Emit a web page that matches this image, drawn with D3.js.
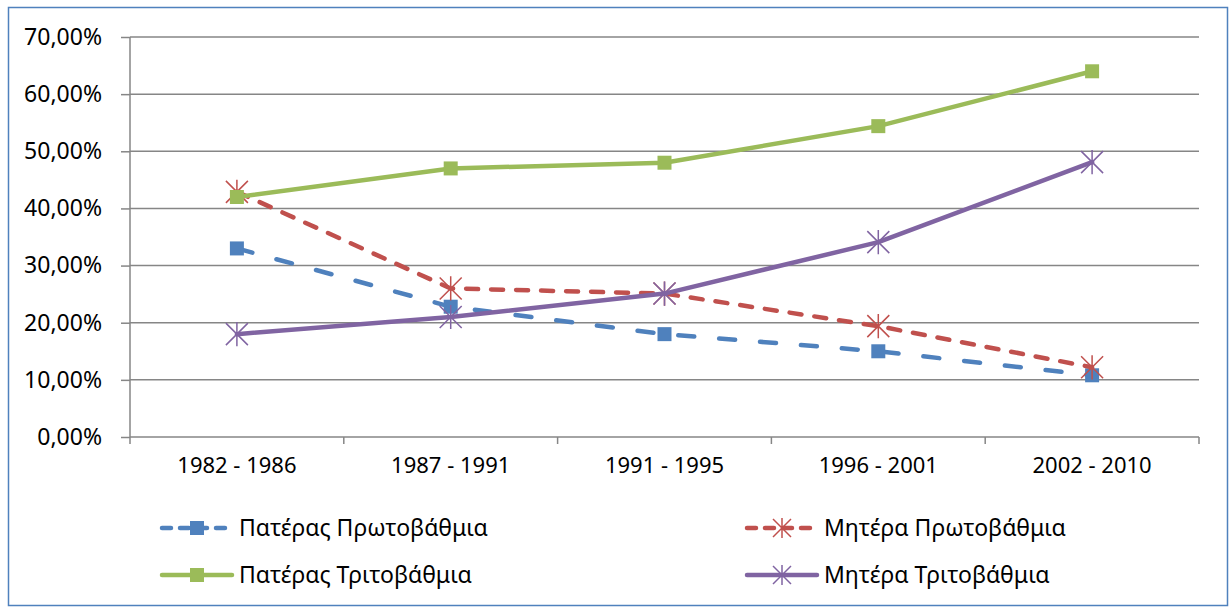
<!DOCTYPE html>
<html>
<head>
<meta charset="utf-8">
<script src="https://cdn.jsdelivr.net/npm/d3@7"></script>
<style>
  body { margin: 0; background: #fff; }
  text { font-family: "Noto Sans", "Open Sans", sans-serif; fill: #000; }
</style>
</head>
<body>
<div id="vis"></div>
<script>
// Periods on the x axis
var categories = ['1982 - 1986', '1987 - 1991', '1991 - 1995', '1996 - 2001', '2002 - 2010'];

// Share of each group, in percent
var fatherPrimary = [33.0, 22.8, 18.0, 15.0, 10.8];
var motherPrimary = [42.9, 26.0, 25.1, 19.4, 12.2];
var fatherTertiary = [42.0, 47.0, 48.0, 54.4, 64.0];
var motherTertiary = [18.0, 21.0, 25.1, 34.1, 48.1];

var seriesNames = ['Πατέρας Πρωτοβάθμια', 'Μητέρα Πρωτοβάθμια', 'Πατέρας Τριτοβάθμια', 'Μητέρα Τριτοβάθμια'];
var yTicks = [0, 10, 20, 30, 40, 50, 60, 70];

var width = 1229;
var height = 608;
var margin = { top: 37, left: 130, right: 30, bottom: 171 };
var plotW = width - margin.left - margin.right;
var plotH = height - margin.top - margin.bottom;

// Style per series, same order as seriesNames
var styles = [
  { color: '#4F81BD', dash: '16,25', marker: 'square' },
  { color: '#C0504D', dash: '12,13', marker: 'star' },
  { color: '#9BBB59', dash: null, marker: 'square' },
  { color: '#8064A2', dash: null, marker: 'star' }
];

var series = [fatherPrimary, motherPrimary, fatherTertiary, motherTertiary].map(function (vals, i) {
  return { name: seriesNames[i], values: vals, style: styles[i] };
});

var svg = d3.select('#vis').append('svg')
  .attr('width', width)
  .attr('height', height);

// outer chart border
svg.append('rect')
  .attr('x', 8.5).attr('y', 7.5)
  .attr('width', 1219).attr('height', 598)
  .attr('fill', '#fff')
  .attr('stroke', '#4F81BD')
  .attr('stroke-width', 1.5);

var g = svg.append('g')
  .attr('transform', 'translate(' + margin.left + ',' + margin.top + ')');

var x = d3.scaleBand().domain(categories).range([0, plotW]);
var y = d3.scaleLinear().domain([0, 70]).range([plotH, 0]);

// gridlines
g.selectAll('.grid').data(yTicks.slice(1))
  .enter().append('line')
  .attr('x1', 0).attr('x2', plotW)
  .attr('y1', function (d) { return y(d); })
  .attr('y2', function (d) { return y(d); })
  .attr('stroke', '#868686')
  .attr('stroke-width', 1.5);

// y axis
var yAxis = d3.axisLeft(y)
  .tickValues(yTicks)
  .tickSize(9)
  .tickPadding(19)
  .tickFormat(function (d) { return d3.format('.2f')(d).replace('.', ',') + '%'; });

var yg = g.append('g').call(yAxis);
yg.select('.domain').attr('stroke', '#868686').attr('stroke-width', 1.5).attr('d', 'M0,0V' + plotH);
yg.selectAll('.tick line').attr('stroke', '#868686').attr('stroke-width', 1.5);
yg.selectAll('.tick text').style('font-size', '23px');

// x axis
var xg = g.append('g')
  .attr('transform', 'translate(0,' + plotH + ')')
  .call(d3.axisBottom(x).tickSize(0).tickPadding(20));
xg.select('.domain').attr('stroke', '#868686').attr('stroke-width', 1.5).attr('d', 'M0,0H' + plotW);
xg.selectAll('.tick text').style('font-size', '22px');

// x tick marks sit between categories
g.selectAll('.xtick').data(d3.range(categories.length + 1))
  .enter().append('line')
  .attr('x1', function (i) { return i * x.step(); })
  .attr('x2', function (i) { return i * x.step(); })
  .attr('y1', plotH).attr('y2', plotH + 7)
  .attr('stroke', '#868686')
  .attr('stroke-width', 1.5);

var cx = function (d, i) { return x(categories[i]) + x.bandwidth() / 2; };

var line = d3.line()
  .x(function (d, i) { return cx(d, i); })
  .y(function (d) { return y(d); });

function drawMarker(sel, type, color, s) {
  if (type === 'square') {
    sel.append('rect')
      .attr('x', -s / 2).attr('y', -s / 2)
      .attr('width', s).attr('height', s)
      .attr('fill', color);
  } else {
    var r = s / 2;
    sel.append('path')
      .attr('d', 'M' + (-r) + ',' + (-r) + 'L' + r + ',' + r +
        'M' + (-r) + ',' + r + 'L' + r + ',' + (-r) +
        'M0,' + (-r * 1.1) + 'V' + (r * 1.1))
      .attr('stroke', color)
      .attr('stroke-width', 1.5)
      .attr('fill', 'none');
  }
}

series.forEach(function (s) {
  g.append('path')
    .datum(s.values)
    .attr('d', line)
    .attr('fill', 'none')
    .attr('stroke', s.style.color)
    .attr('stroke-width', 4.5)
    .attr('stroke-linecap', 'round')
    .attr('stroke-linejoin', 'round')
    .attr('stroke-dasharray', s.style.dash);

  s.values.forEach(function (v, i) {
    var m = g.append('g')
      .attr('transform', 'translate(' + cx(v, i) + ',' + y(v) + ')');
    drawMarker(m, s.style.marker, s.style.color, s.style.marker === 'square' ? 14 : 22);
  });
});

// legend, two columns
var legendPos = [
  { x: 162, y: 528 }, { x: 747, y: 528 },
  { x: 162, y: 575 }, { x: 747, y: 575 }
];

series.forEach(function (s, i) {
  var p = legendPos[i];
  var lg = svg.append('g').attr('transform', 'translate(' + p.x + ',' + p.y + ')');
  lg.append('line')
    .attr('x1', 0).attr('x2', 70)
    .attr('stroke', s.style.color)
    .attr('stroke-width', 4.5)
    .attr('stroke-linecap', 'round')
    .attr('stroke-dasharray', s.style.dash ? '9,9' : null);
  var m = lg.append('g').attr('transform', 'translate(35,0)');
  drawMarker(m, s.style.marker, s.style.color, s.style.marker === 'square' ? 14 : 18);
  lg.append('text')
    .attr('x', 77)
    .attr('dy', '0.35em')
    .style('font-size', '23px')
    .text(s.name);
});
</script>
</body>
</html>
